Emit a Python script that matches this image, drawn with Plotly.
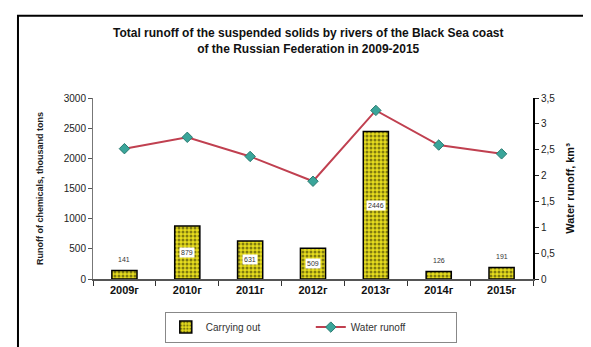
import plotly.graph_objects as go

years = ["2009г", "2010г", "2011г", "2012г", "2013г", "2014г", "2015г"]
carrying_out = [141, 879, 631, 509, 2446, 126, 191]
water_runoff = [2.52, 2.74, 2.37, 1.89, 3.26, 2.59, 2.42]
left_ticks = [0, 500, 1000, 1500, 2000, 2500, 3000]
right_ticks = [0, 0.5, 1, 1.5, 2, 2.5, 3, 3.5]
inside_label = [False, True, True, True, True, False, False]

FONT = "Liberation Sans, Arial, sans-serif"

fig = go.Figure()
fig.add_trace(go.Bar(
    x=years, y=carrying_out, name="Carrying out", width=0.4,
    marker=dict(color="#e6dc1e",
                line=dict(color="black", width=1.5),
                pattern=dict(shape=".", fgcolor="#1a1a00", bgcolor="#e6dc1e",
                             size=4, solidity=0.45)),
    yaxis="y",
))
fig.add_trace(go.Scatter(
    x=years, y=water_runoff, name="Water runoff", mode="lines+markers",
    line=dict(color="#c04050", width=2),
    marker=dict(symbol="diamond", size=8, color="#3aa59a",
                line=dict(color="#2a7a70", width=1)),
    yaxis="y2",
))

annotations = []
for yr, v, inside in zip(years, carrying_out, inside_label):
    if inside:
        annotations.append(dict(x=yr, y=v / 2, xref="x", yref="y", text=str(v),
                                showarrow=False, bgcolor="white",
                                font=dict(size=7, color="#333", family=FONT),
                                borderpad=1))
    else:
        annotations.append(dict(x=yr, y=v, xref="x", yref="y", text=str(v),
                                showarrow=False, yanchor="bottom", yshift=5,
                                font=dict(size=7, color="#333", family=FONT)))

fig.update_layout(
    width=591, height=347,
    margin=dict(l=85, r=66, t=90, b=68),
    paper_bgcolor="white", plot_bgcolor="white",
    separators=", ",
    font=dict(family=FONT, color="black"),
    title=dict(text="<b>Total runoff of the suspended solids by rivers of the Black Sea coast<br>of the Russian Federation in 2009-2015</b>",
               x=0.508, xanchor="center", y=0.915, yanchor="top",
               font=dict(size=12, family=FONT, color="#111")),
    xaxis=dict(type="category", showline=True, linecolor="#555", linewidth=1.5,
               ticks="outside", tickson="boundaries", ticklen=5, tickcolor="#333",
               tickfont=dict(size=11, family="Liberation Sans Bold, Arial Black, sans-serif", color="#111"),
               ticktext=["<b>%s</b>" % y for y in years], tickvals=years,
               showgrid=False, zeroline=False),
    yaxis=dict(range=[0, 3000], tickvals=left_ticks, showline=True, linecolor="#777",
               linewidth=1, ticks="outside", ticklen=4, tickcolor="#555",
               tickfont=dict(size=10, color="#222"), showgrid=False, zeroline=False,
               title=dict(text="<b>Runoff of chemicals, thousand tons</b>",
                          font=dict(size=9, color="#222"), standoff=18)),
    yaxis2=dict(range=[0, 3.5], tickvals=right_ticks, overlaying="y", side="right",
                showline=True, linecolor="black", linewidth=2, ticks="outside",
                ticklen=4, tickcolor="#222", tickfont=dict(size=10, color="#222"),
                showgrid=False, zeroline=False,
                title=dict(text="<b>Water runoff, km³</b>",
                           font=dict(size=11, color="#111"), standoff=12)),
    legend=dict(orientation="h", x=0.495, xanchor="center", y=-0.18, yanchor="top",
                bordercolor="#888", borderwidth=1, font=dict(size=10, color="#333"),
                itemwidth=30, entrywidth=100, tracegroupgap=0),
    showlegend=True,
    annotations=annotations,
    shapes=[dict(type="rect", xref="paper", yref="paper",
                 x0=-0.1705, x1=1.1386, y0=-0.45, y1=1.455,
                 line=dict(color="black", width=2), fillcolor="rgba(0,0,0,0)")],
)

fig.write_html("out.html")
